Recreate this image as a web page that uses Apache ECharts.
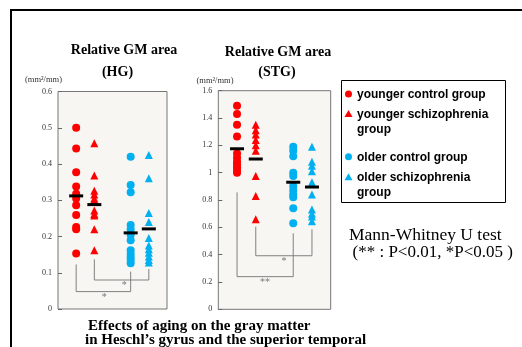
<!DOCTYPE html>
<html>
<head>
<meta charset="utf-8">
<script src="https://cdn.jsdelivr.net/npm/echarts@6/dist/echarts.min.js"></script>
<style>
html, body { margin: 0; padding: 0; background: #fff; }
#chart { width: 522px; height: 347px; }
</style>
</head>
<body>
<div id="chart"></div>
<script>
// groups, in column order
var groupNames = ['younger control group', 'younger schizophrenia\ngroup', 'older control group', 'older schizophrenia\ngroup'];
var groupX = [1, 2, 4, 5];
var groupColors = ['#ff0000', '#ff0000', '#00b0f0', '#00b0f0'];
var groupSymbols = ['circle', 'triangle', 'circle', 'triangle'];

// Relative GM area (HG)
var hgYoungCtrl = [0.50, 0.443, 0.377, 0.338, 0.318, 0.305, 0.286, 0.259, 0.226, 0.220, 0.153];
var hgYoungSz = [0.457, 0.368, 0.326, 0.316, 0.305, 0.300, 0.272, 0.262, 0.258, 0.220, 0.162];
var hgOldCtrl = [0.42, 0.342, 0.322, 0.232, 0.220, 0.205, 0.190, 0.162, 0.152, 0.143, 0.135, 0.126];
var hgOldSz = [0.425, 0.361, 0.265, 0.240, 0.196, 0.175, 0.165, 0.155, 0.145, 0.135, 0.128];
var hgMeans = [0.312, 0.288, 0.210, 0.221];

// Relative GM area (STG)
var stgYoungCtrl = [1.49, 1.43, 1.35, 1.265, 1.14, 1.11, 1.08, 1.06, 1.04, 1.02, 1.00];
var stgYoungSz = [1.35, 1.31, 1.28, 1.24, 1.20, 1.16, 0.975, 0.83, 0.66];
var stgOldCtrl = [1.19, 1.16, 1.12, 1.00, 0.975, 0.90, 0.87, 0.84, 0.82, 0.74, 0.63];
var stgOldSz = [1.19, 1.08, 1.05, 1.01, 0.93, 0.84, 0.73, 0.70, 0.68, 0.645];
var stgMeans = [1.175, 1.10, 0.93, 0.895];

// significance brackets: [xFrom, yFrom, xTo, yTo, yBar, mark, xMark]
var hgBrackets = [
  [1, 0.123, 4, 0.103, 0.048, '*', 2.55],
  [2, 0.137, 5, 0.110, 0.080, '*', 3.65]
];
var stgBrackets = [
  [1, 0.856, 4, 0.556, 0.239, '**', 2.49],
  [2, 0.605, 5, 0.585, 0.392, '*', 3.51]
];

var serif = 'Liberation Serif';

function buildSeries(idx, groups, means, brackets) {
  var list = [];
  groups.forEach(function(vals, i) {
    list.push({
      type: 'scatter', xAxisIndex: idx, yAxisIndex: idx,
      name: groupNames[i], symbol: groupSymbols[i], symbolSize: 8,
      itemStyle: { color: groupColors[i], opacity: 1 },
      data: vals.map(function(v) { return [groupX[i], v]; }),
      z: 3, silent: true
    });
  });
  list.push({
    type: 'scatter', xAxisIndex: idx, yAxisIndex: idx,
    symbol: 'rect', symbolSize: [14, 3],
    itemStyle: { color: '#000', opacity: 1 },
    data: means.map(function(m, i) { return [groupX[i], m]; }),
    z: 4, silent: true
  });
  brackets.forEach(function(b) {
    list.push({
      type: 'line', xAxisIndex: idx, yAxisIndex: idx,
      data: [[b[0], b[1]], [b[0], b[4]], [b[2], b[4]], [b[2], b[3]]],
      symbol: 'none', lineStyle: { color: '#808080', width: 1 },
      z: 2, silent: true, animation: false
    });
    list.push({
      type: 'scatter', xAxisIndex: idx, yAxisIndex: idx,
      data: [[b[6], b[4]]], symbolSize: 1,
      itemStyle: { color: 'rgba(0,0,0,0)' },
      label: { show: true, position: 'bottom', distance: 0, formatter: b[5],
        fontFamily: serif, fontSize: 10, color: '#555' },
      silent: true
    });
  });
  return list;
}

function yAxisOf(idx, max, step) {
  return {
    type: 'value', gridIndex: idx, min: 0, max: max, interval: step,
    axisLine: { show: false },
    axisTick: { show: true, inside: true, length: 4, lineStyle: { color: '#666' } },
    splitLine: { show: false },
    axisLabel: { fontFamily: serif, fontSize: 8, color: '#333', margin: 6 }
  };
}

function xAxisOf(idx) {
  return { type: 'value', gridIndex: idx, min: 0, max: 6, show: false };
}

var myChart = echarts.init(document.getElementById('chart'));

var legendG = [];
var legendRows = [94, 114, 156.7, 177.3];
legendG.push({ type: 'rect', shape: { x: 341.5, y: 80.5, width: 164, height: 122 },
  style: { fill: '#fff', stroke: '#000', lineWidth: 1 } });
groupNames.forEach(function(n, i) {
  var cy = legendRows[i];
  if (groupSymbols[i] === 'circle') {
    legendG.push({ type: 'circle', shape: { cx: 348.5, cy: cy, r: 3.5 }, style: { fill: groupColors[i] } });
  } else {
    legendG.push({ type: 'polygon', shape: { points: [[348.5, cy - 4], [352.5, cy + 3], [344.5, cy + 3]] }, style: { fill: groupColors[i] } });
  }
  legendG.push({ type: 'text', x: 357, y: cy - 7,
    style: { text: n, font: 'bold 12px "Liberation Sans"', fill: '#000', lineHeight: 15 } });
});

var option = {
  animation: false,
  grid: [
    { left: 58, top: 91.5, width: 109, height: 217.5, show: true,
      backgroundColor: '#f7f6f2', borderColor: '#777', borderWidth: 1 },
    { left: 218.3, top: 90.7, width: 112.4, height: 218.6, show: true,
      backgroundColor: '#f7f6f2', borderColor: '#777', borderWidth: 1 }
  ],
  xAxis: [xAxisOf(0), xAxisOf(1)],
  yAxis: [yAxisOf(0, 0.6, 0.1), yAxisOf(1, 1.6, 0.2)],
  series: buildSeries(0, [hgYoungCtrl, hgYoungSz, hgOldCtrl, hgOldSz], hgMeans, hgBrackets)
    .concat(buildSeries(1, [stgYoungCtrl, stgYoungSz, stgOldCtrl, stgOldSz], stgMeans, stgBrackets)),
  graphic: [
    { type: 'rect', shape: { x: 11, y: 10, width: 600, height: 400 },
      style: { fill: 'none', stroke: '#000', lineWidth: 2 }, silent: true },
    { type: 'text', x: 124, y: 50, style: { text: 'Relative GM area', font: 'bold 14px "Liberation Serif"', fill: '#000', align: 'center', verticalAlign: 'middle' } },
    { type: 'text', x: 117.5, y: 72, style: { text: '(HG)', font: 'bold 14px "Liberation Serif"', fill: '#000', align: 'center', verticalAlign: 'middle' } },
    { type: 'text', x: 278, y: 52, style: { text: 'Relative GM area', font: 'bold 14px "Liberation Serif"', fill: '#000', align: 'center', verticalAlign: 'middle' } },
    { type: 'text', x: 277, y: 72, style: { text: '(STG)', font: 'bold 14px "Liberation Serif"', fill: '#000', align: 'center', verticalAlign: 'middle' } },
    { type: 'text', x: 43.5, y: 80, style: { text: '(mm\u00b2/mm)', font: '8.5px "Liberation Serif"', fill: '#333', align: 'center', verticalAlign: 'middle' } },
    { type: 'text', x: 215, y: 80.7, style: { text: '(mm\u00b2/mm)', font: '8.5px "Liberation Serif"', fill: '#333', align: 'center', verticalAlign: 'middle' } },
    { type: 'text', x: 349, y: 235, style: { text: 'Mann-Whitney U test', font: '17.5px "Liberation Serif"', fill: '#000', verticalAlign: 'middle' } },
    { type: 'text', x: 352.5, y: 253, style: { text: '(** : P<0.01, *P<0.05 )', font: '17px "Liberation Serif"', fill: '#000', verticalAlign: 'middle' } },
    { type: 'text', x: 88, y: 326, style: { text: 'Effects of aging on the gray matter', font: 'bold 15px "Liberation Serif"', fill: '#000', verticalAlign: 'middle' } },
    { type: 'text', x: 85, y: 340, style: { text: 'in Heschl\u2019s gyrus and the superior temporal', font: 'bold 15px "Liberation Serif"', fill: '#000', verticalAlign: 'middle' } }
  ].concat(legendG)
};
myChart.setOption(option);
</script>
</body>
</html>
